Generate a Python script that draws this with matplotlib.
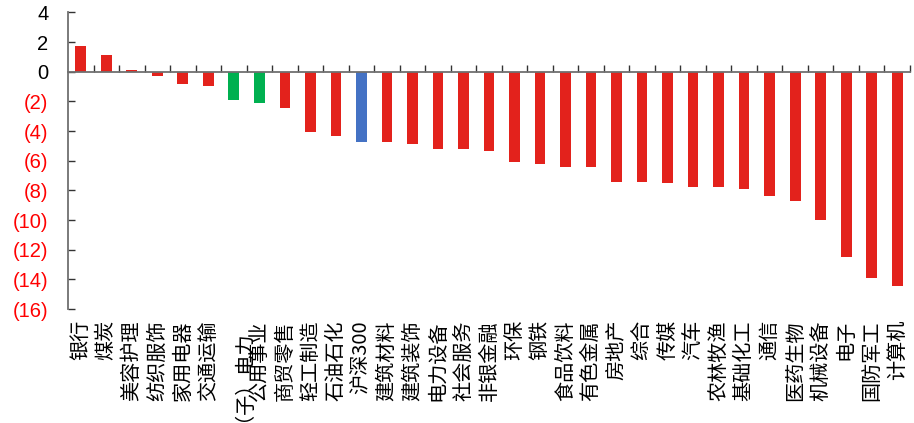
import matplotlib
matplotlib.use("Agg")
import matplotlib.pyplot as plt
import numpy as np

categories = ["银行", "煤炭", "美容护理", "纺织服饰", "家用电器", "交通运输", "（子）电力",
              "公用事业", "商贸零售", "轻工制造", "石油石化", "沪深300", "建筑材料", "建筑装饰",
              "电力设备", "社会服务", "非银金融", "环保", "钢铁", "食品饮料", "有色金属", "房地产",
              "综合", "传媒", "汽车", "农林牧渔", "基础化工", "通信", "医药生物", "机械设备",
              "电子", "国防军工", "计算机"]
values = [1.71, 1.10, 0.09, -0.27, -0.83, -0.99, -1.89, -2.09, -2.45, -4.09, -4.34, -4.72,
          -4.76, -4.90, -5.23, -5.24, -5.37, -6.09, -6.25, -6.40, -6.45, -7.42, -7.44, -7.50,
          -7.75, -7.75, -7.91, -8.36, -8.70, -9.98, -12.52, -13.93, -14.47]
green_cats = ["（子）电力", "公用事业"]
blue_cats = ["沪深300"]
yticks = [4, 2, 0, -2, -4, -6, -8, -10, -12, -14, -16]

RED = "#E3221C"
GREEN = "#00B050"
BLUE = "#4472C4"
colors = [GREEN if c in green_cats else BLUE if c in blue_cats else RED for c in categories]

plt.rcParams['font.family'] = ['Noto Sans CJK SC', 'DejaVu Sans']

fig = plt.figure(figsize=(9.14, 4.23), dpi=100)
ax = fig.add_axes([0.0744, 0.2695, 0.9956 - 0.0744, 0.9707 - 0.2695])

x = np.arange(len(categories))
ax.bar(x, values, width=0.42, color=colors, edgecolor='none', zorder=2)

ax.set_xlim(-0.5, len(categories) - 0.5)
ax.set_ylim(-16, 4)

# spines
for s in ['top', 'right']:
    ax.spines[s].set_visible(False)
ax.spines['left'].set_color('#6f6f6f')
ax.spines['left'].set_linewidth(1.3)
ax.spines['bottom'].set_position(('data', 0))
ax.spines['bottom'].set_color('#6f6f6f')
ax.spines['bottom'].set_linewidth(1.3)
ax.spines['bottom'].set_zorder(3)

# x ticks at category boundaries on zero line
ax.set_xticks(np.arange(len(categories)) + 0.5)
ax.tick_params(axis='x', direction='in', length=5, width=1.0, color='#333333', labelbottom=False)

# y ticks
ax.set_yticks(yticks)
ylabels = [str(v) if v >= 0 else "(%d)" % (-v) for v in yticks]
ax.set_yticklabels(ylabels, fontfamily=['Liberation Sans', 'DejaVu Sans'], fontsize=14.5)
for lbl, v in zip(ax.get_yticklabels(), yticks):
    lbl.set_color('red' if v < 0 else 'black')
ax.tick_params(axis='y', direction='in', length=5, width=1.0, color='#333333', pad=14)

# category labels at bottom
sec = ax.secondary_xaxis('bottom')
sec.spines['bottom'].set_visible(False)
sec.set_xticks(x)
sec.set_xticklabels(categories, rotation=90, fontsize=14.5, va='top', ha='center')
sec.tick_params(axis='x', length=0, pad=8)

fig.savefig("out.png", dpi=100)
